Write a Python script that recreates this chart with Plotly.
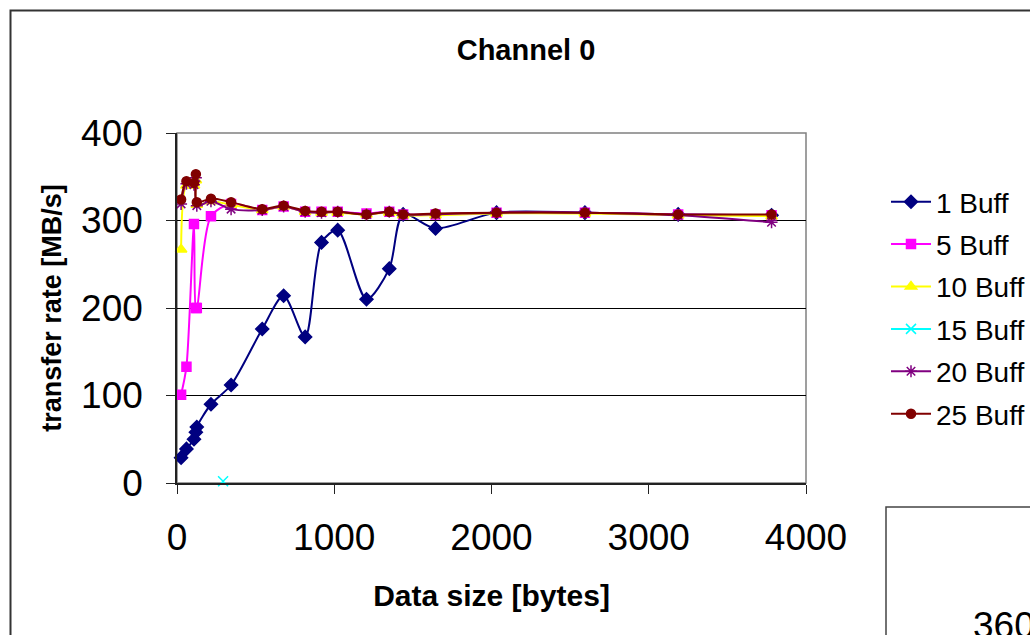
import plotly.graph_objects as go

# ---- data ----
data_size = [26, 60, 108, 120, 126, 216, 344, 542, 678, 815, 919, 1022,
             1205, 1350, 1438, 1644, 2032, 2594, 3187, 3781]

buff_1 = [29, 39, 50, 58, 64, 90, 112, 176, 214, 167, 275, 289,
          210, 245, 307, 291, 309, 309, 307, 306]
buff_5 = [101, 133, 296, 200, 200, 305, 319, 312, 316, 310, 310, 310,
          308, 310, 307, 307, 309, 309, 307, 306]
buff_10 = [267, 340, 340, 346, 318, 322, 318, 312, 316, 310, 309, 309,
           307, 309, 306, 306, 308, 308, 306, 305]
buff_15_x = [293]
buff_15 = [2]
buff_20 = [319, 342, 341, 349, 317, 322, 313, 312, 316, 310, 309, 310,
           307, 310, 307, 307, 309, 309, 306, 298]
buff_25 = [324, 345, 343, 353, 321, 325, 321, 313, 317, 311, 310, 310,
           307, 310, 307, 308, 309, 309, 307, 307]

series_names = ["1 Buff", "5 Buff", "10 Buff", "15 Buff", "20 Buff", "25 Buff"]
x_ticks = [0, 1000, 2000, 3000, 4000]
y_ticks = [0, 100, 200, 300, 400]

FONT = "Arial, Liberation Sans, sans-serif"

# plot area in pixels
L, R, T, B = 177, 224, 133, 152
W, H = 1030, 635
PW, PH = W - L - R, H - T - B


def px_x(p):
    return (p - L) / PW


def px_y(p):
    return (H - B - p) / PH


styles = [
    dict(color="#000080", symbol="diamond", size=10),
    dict(color="#FF00FF", symbol="square", size=9),
    dict(color="#FFFF00", symbol="triangle-up", size=10),
    dict(color="#00FFFF", symbol="x-thin-open", size=10),
    dict(color="#800080", symbol="asterisk-open", size=10),
    dict(color="#800000", symbol="circle", size=9),
]
xs = [data_size, data_size, data_size, buff_15_x, data_size, data_size]
ys = [buff_1, buff_5, buff_10, buff_15, buff_20, buff_25]

fig = go.Figure()
for name, x, y, st in zip(series_names, xs, ys, styles):
    fig.add_trace(go.Scatter(
        x=x, y=y, name=name, mode="lines+markers", legendgroup=name,
        line=dict(color=st["color"], width=2, shape="spline", smoothing=0.8),
        marker=dict(color=st["color"], symbol=st["symbol"], size=st["size"],
                    line=dict(color=st["color"], width=1.5)),
        cliponaxis=False,
    ))

fig.update_layout(
    width=W, height=H,
    margin=dict(l=L, r=R, t=T, b=B, autoexpand=False),
    paper_bgcolor="white", plot_bgcolor="white",
    font=dict(family=FONT, color="black"),
    title=dict(text="<b>Channel 0</b>", font=dict(size=29, family=FONT),
               x=526 / W, xref="container", xanchor="center",
               y=1 - 50 / H, yref="container", yanchor="middle"),
    showlegend=True,
    legend=dict(x=px_x(886), xanchor="left", y=px_y(177), yanchor="top",
                font=dict(size=28, family=FONT), bgcolor="rgba(0,0,0,0)",
                itemwidth=40, tracegroupgap=3, traceorder="grouped"),
    xaxis=dict(range=[0, 4000], tickvals=x_ticks, ticktext=[str(v) for v in x_ticks],
               showgrid=False, zeroline=False, showline=True, linecolor="#222",
               linewidth=1.5, ticks="outside", ticklen=9, tickcolor="#222",
               tickfont=dict(size=37, family=FONT), ticklabelstandoff=12,
               title=dict(text="<b>Data size [bytes]</b>", font=dict(size=30, family=FONT),
                          standoff=28)),
    yaxis=dict(range=[0, 400], tickvals=y_ticks, ticktext=[str(v) for v in y_ticks],
               showgrid=True, gridcolor="black", gridwidth=1, zeroline=False,
               showline=True, linecolor="#222", linewidth=1.5, ticks="outside",
               ticklen=9, tickcolor="#222", tickfont=dict(size=37, family=FONT),
               ticklabelstandoff=16,
               title=dict(text="<b>transfer rate [MB/s]</b>", font=dict(size=27, family=FONT),
                          standoff=12)),
    shapes=[
        # plot-area frame (gray) on top of gridlines, below data
        dict(type="rect", xref="paper", yref="paper", x0=0, x1=1, y0=0, y1=1,
             line=dict(color="#808080", width=1.5), layer="between"),
        # outer chart border
        dict(type="rect", xref="paper", yref="paper",
             x0=px_x(10.5), x1=px_x(1050), y0=px_y(660), y1=px_y(10.5),
             line=dict(color="#333333", width=2), layer="below"),
        # neighbouring chart box (bottom right)
        dict(type="rect", xref="paper", yref="paper",
             x0=px_x(886), x1=px_x(1060), y0=px_y(670), y1=px_y(507),
             line=dict(color="#444444", width=1.5), layer="above"),
    ],
    annotations=[
        dict(text="360", xref="paper", yref="paper", x=px_x(971), y=px_y(603),
             xanchor="left", yanchor="top", showarrow=False,
             font=dict(size=37, family=FONT, color="black")),
    ],
)

fig.write_html("out.html")
